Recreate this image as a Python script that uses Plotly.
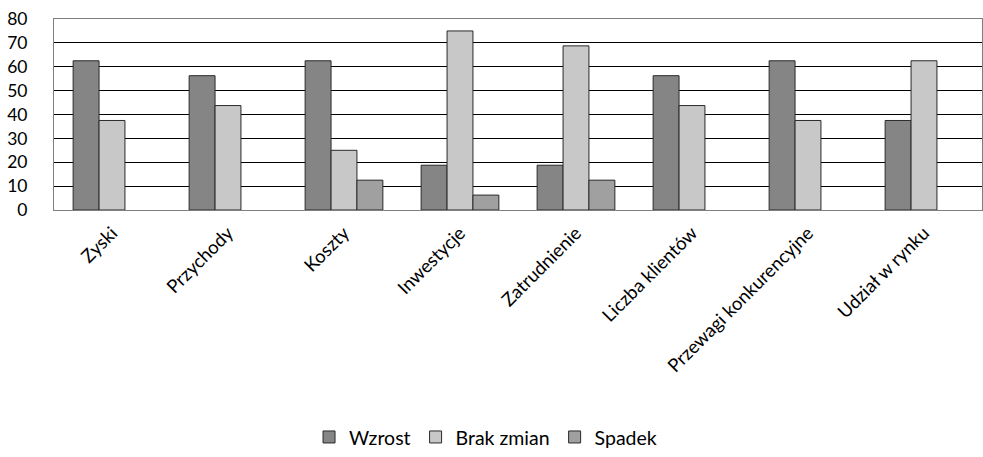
import plotly.graph_objects as go

categories = ["Zyski", "Przychody", "Koszty", "Inwestycje", "Zatrudnienie",
              "Liczba klientów", "Przewagi konkurencyjne", "Udział w rynku"]
wzrost = [62.5, 56.25, 62.5, 18.75, 18.75, 56.25, 62.5, 37.5]
brak_zmian = [37.5, 43.75, 25, 75, 68.75, 43.75, 37.5, 62.5]
spadek = [None, None, 12.5, 6.25, 12.5, None, None, None]
series_names = ["Wzrost", "Brak zmian", "Spadek"]
colors = ["#858585", "#c8c8c8", "#a0a0a0"]

font_family = "Lato, Open Sans, sans-serif"

fig = go.Figure()
for name, vals, col in zip(series_names, [wzrost, brak_zmian, spadek], colors):
    fig.add_trace(go.Bar(
        x=categories, y=vals, name=name,
        marker=dict(color=col, line=dict(color="#2a2a2a", width=1)),
    ))

fig.update_layout(
    width=983, height=457,
    margin=dict(l=54, r=1, t=19, b=247),
    paper_bgcolor="white", plot_bgcolor="white",
    barmode="group", bargap=0.33, bargroupgap=0,
    font=dict(family=font_family, size=17, color="black"),
    showlegend=True,
    legend=dict(orientation="h", x=0.465, xanchor="center", y=-1.19, yanchor="middle",
                font=dict(size=19.5), itemwidth=30, traceorder="normal"),
    xaxis=dict(tickangle=-45, showline=True, linecolor="#7f7f7f", linewidth=1,
               ticks="", tickfont=dict(size=18.5), mirror=True, automargin=False,
               ticklabelstandoff=4),
    yaxis=dict(range=[0, 80], dtick=10, showgrid=True, gridcolor="black", gridwidth=1,
               showline=True, linecolor="#7f7f7f", linewidth=1, ticks="",
               tickfont=dict(size=17.5), zeroline=False, mirror=True, automargin=False,
               ticklabelstandoff=22),
)
fig.write_html("out.html", config={"displayModeBar": False},
               post_script="document.body.style.margin='0';document.body.style.overflow='hidden';")
